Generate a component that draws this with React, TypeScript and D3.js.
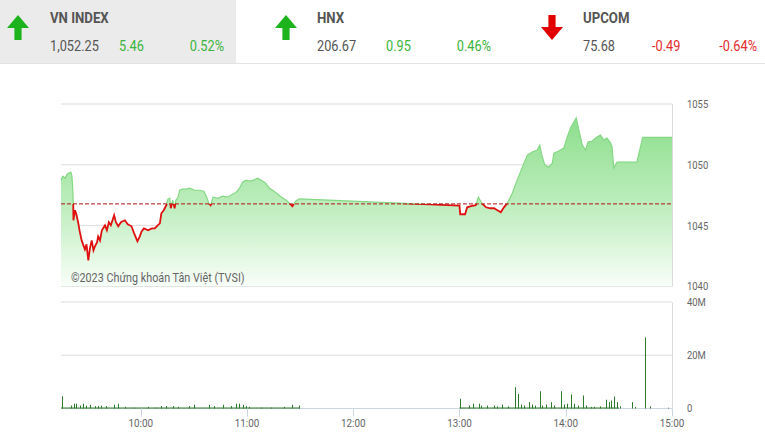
import * as d3 from 'd3';

// ---- header quotes ----
const indexNames = ['VN INDEX', 'HNX', 'UPCOM'];
const indexValues = ['1,052.25', '206.67', '75.68'];
const indexChanges = ['5.46', '0.95', '-0.49'];
const indexPercents = ['0.52%', '0.46%', '-0.64%'];

// ---- intraday VN-Index (time, points) ----
const priceTimes = [
  '09:15:00', '09:16:00', '09:17:20', '09:18:25', '09:19:30', '09:20:35', '09:21:10', '09:21:35',
  '09:21:55', '09:22:00', '09:22:55', '09:23:40', '09:24:40', '09:25:40', '09:26:40', '09:27:40',
  '09:28:30', '09:29:25', '09:30:25', '09:31:20', '09:32:20', '09:33:20', '09:34:10', '09:35:20',
  '09:36:00', '09:37:00', '09:38:05', '09:39:50', '09:40:55', '09:42:00', '09:43:10', '09:45:00',
  '09:46:00', '09:47:20', '09:48:50', '09:51:05', '09:52:40', '09:54:50', '09:56:05', '09:58:10',
  '09:59:30', '10:00:30', '10:01:50', '10:04:10', '10:06:20', '10:08:00', '10:09:35', '10:10:50',
  '10:11:40', '10:13:00', '10:14:30', '10:15:20', '10:16:25', '10:17:00', '10:18:05', '10:19:10',
  '10:19:50', '10:20:55', '10:22:00', '10:23:40', '10:25:50', '10:27:40', '10:30:30', '10:33:20',
  '10:35:35', '10:37:05', '10:38:25', '10:39:30', '10:40:50', '10:43:30', '10:46:20', '10:49:05',
  '10:51:55', '10:54:00', '10:55:50', '10:57:30', '10:59:35', '11:01:30', '11:03:40', '11:06:00',
  '11:08:10', '11:10:30', '11:12:40', '11:14:35', '11:16:40', '11:19:30', '11:22:10', '11:24:00',
  '11:25:40', '11:27:25', '11:29:35',
  '13:00:00', '13:00:25', '13:03:10', '13:04:20', '13:06:30', '13:09:10', '13:10:40', '13:12:40',
  '13:15:00', '13:17:20', '13:19:30', '13:21:25', '13:23:20', '13:25:05', '13:27:00', '13:29:50',
  '13:32:35', '13:35:30', '13:38:20', '13:41:05', '13:43:55', '13:45:20', '13:46:30', '13:48:10',
  '13:50:30', '13:52:25', '13:53:20', '13:56:05', '13:58:55', '14:00:50', '14:02:40', '14:04:35',
  '14:05:55', '14:07:25', '14:09:20', '14:11:10', '14:12:35', '14:14:55', '14:17:40', '14:19:35',
  '14:21:30', '14:23:20', '14:25:20', '14:26:10', '14:27:05', '14:29:00', '14:40:10', '14:43:30',
  '15:00:00',
];
const priceValues = [
  1048.74, 1049.07, 1048.9, 1049.23, 1049.32, 1049.4, 1049.07, 1048.16,
  1046.84, 1045.44, 1046.27, 1045.94, 1045.28, 1044.45, 1043.79, 1043.38,
  1043.05, 1043.46, 1042.14, 1043.13, 1043.79, 1042.97, 1043.3, 1043.63,
  1044.12, 1043.79, 1044.62, 1045.03, 1044.62, 1045.28, 1045.03, 1045.85,
  1045.28, 1044.95, 1045.28, 1045.44, 1045.11, 1044.95, 1044.45, 1043.71,
  1044.12, 1044.53, 1044.78, 1044.62, 1044.78, 1044.78, 1045.03, 1045.19,
  1046.02, 1046.27, 1046.68, 1047.17, 1047.25, 1046.43, 1047.09, 1046.43,
  1047.09, 1047.25, 1047.91, 1048.0, 1048.0, 1048.08, 1047.91, 1047.91,
  1047.83, 1047.42, 1046.84, 1046.68, 1047.34, 1047.25, 1047.42, 1047.34,
  1047.58, 1047.75, 1048.08, 1048.57, 1048.74, 1048.66, 1048.74, 1048.9,
  1048.74, 1048.49, 1048.08, 1047.91, 1047.67, 1047.34, 1047.09, 1046.84,
  1046.6, 1047.01, 1047.21,
  1046.64, 1045.94, 1045.94, 1046.51, 1046.6, 1046.68, 1047.34, 1046.84,
  1046.51, 1046.43, 1046.43, 1046.27, 1046.1, 1046.51, 1046.84, 1047.67,
  1048.74, 1049.81, 1050.8, 1051.05, 1051.21, 1051.62, 1050.8, 1049.98,
  1049.81, 1050.14, 1050.96, 1051.13, 1051.38, 1052.28, 1053.03, 1053.52,
  1053.85, 1052.86, 1051.62, 1051.21, 1051.87, 1051.96, 1052.28, 1052.45,
  1052.04, 1052.2, 1051.79, 1051.46, 1049.73, 1050.22, 1050.22, 1052.25,
  1052.25,
];
const referencePrice = 1046.79;

// ---- matched volume (time, million shares) ----
const volumeTimes = [
  '09:15:30', '09:20:50', '09:22:20', '09:23:35', '09:25:30', '09:27:25', '09:29:20', '09:31:10',
  '09:34:00', '09:35:50', '09:37:40', '09:40:30', '09:45:10', '09:47:05', '09:50:55', '09:56:30',
  '10:04:00', '10:07:50', '10:11:30', '10:14:20', '10:18:00', '10:21:00', '10:27:30', '10:30:20',
  '10:38:50', '10:41:35', '10:46:20', '10:51:00', '10:53:50', '10:55:40', '10:57:30', '10:59:25',
  '11:01:20', '11:07:50', '11:13:30', '11:21:00', '11:25:40', '11:29:30',
  '13:00:25', '13:05:25', '13:07:50', '13:11:00', '13:12:00', '13:15:40', '13:19:30', '13:21:25',
  '13:24:10', '13:27:35', '13:31:20', '13:33:00', '13:34:35', '13:36:25', '13:39:10', '13:41:05',
  '13:42:35', '13:45:20', '13:46:40', '13:48:35', '13:51:30', '13:53:20', '13:57:05', '13:58:55',
  '14:00:50', '14:03:05', '14:04:35', '14:06:50', '14:09:50', '14:11:10', '14:14:00', '14:15:50',
  '14:19:35', '14:23:00', '14:24:20', '14:25:35', '14:27:30', '14:29:00', '14:30:55', '14:37:25',
  '14:39:20', '14:45:00', '14:47:20', '14:57:40',
];
const volumeValues = [
  4.6, 1.1, 1.8, 1.8, 1.1, 1.8, 1.1, 1.4,
  0.9, 0.9, 1.1, 0.9, 1.4, 1.8, 0.6, 0.3,
  0.6, 0.3, 0.9, 0.9, 0.9, 0.6, 0.9, 1.4,
  1.4, 0.9, 1.4, 0.9, 1.8, 1.8, 1.4, 0.9,
  0.6, 0.3, 0.3, 0.6, 1.4, 1.1,
  3.6, 1.1, 1.8, 1.8, 1.1, 1.1, 1.1, 0.8,
  1.5, 0.8, 8.0, 5.5, 1.5, 1.1, 2.4, 1.5,
  1.1, 6.5, 1.1, 1.5, 2.4, 1.1, 6.5, 1.5,
  1.8, 5.3, 1.8, 1.1, 4.9, 1.1, 0.6, 0.6,
  0.8, 3.3, 2.4, 3.0, 4.5, 2.4, 0.8, 2.4,
  0.6, 26.7, 0.8, 0.3,
];
const sessionStarts = ['09:15:00', '13:00:00'];
const sessionEnds = ['11:30:00', '14:30:00'];

// ---- axes ----
const priceTicks = [1040, 1045, 1050, 1055];
const volumeTicks = [0, 20, 40];
const hourTicks = ['10:00', '11:00', '12:00', '13:00', '14:00', '15:00'];

const W = 765;
const H = 441;
const FONT = 'Roboto, "Noto Sans", sans-serif';
// the original uses a condensed face; squeeze Roboto horizontally instead
const NARROW = 0.86;

const parse = d3.timeParse('%H:%M:%S');
const t = (s: string) => parse(s.length === 5 ? s + ':00' : s)!;

function Arrow({ cx, up, color }: { cx: number; up: boolean; color: string }) {
  const top = 15;
  const bottom = 40;
  const hw = 11;
  const sw = 3.6;
  const headH = 13;
  const d = up
    ? `M${cx},${top} L${cx + hw},${top + headH} L${cx + sw},${top + headH} L${cx + sw},${bottom} L${cx - sw},${bottom} L${cx - sw},${top + headH} L${cx - hw},${top + headH} Z`
    : `M${cx},${bottom} L${cx + hw},${bottom - headH} L${cx + sw},${bottom - headH} L${cx + sw},${top} L${cx - sw},${top} L${cx - sw},${bottom - headH} L${cx - hw},${bottom - headH} Z`;
  return <path d={d} fill={color} />;
}

function Narrow({ x, y, k = NARROW, children, ...rest }: any) {
  return (
    <text transform={`translate(${x},${y}) scale(${k},1)`} {...rest}>
      {children}
    </text>
  );
}

export default function App() {
  const left = 61;
  const right = 672;
  const mainTop = 104;
  const mainBottom = 286.5;
  const volTop = 302;
  const volBottom = 408.5;

  const x = d3.scaleTime().domain([t('09:15:00'), t('15:00:00')]).range([left, right]);
  const y = d3.scaleLinear().domain([1040, 1055]).range([mainBottom, mainTop]);
  const yv = d3.scaleLinear().domain([0, 40]).range([volBottom, volTop]);

  const prices = priceTimes.map((s, i) => ({ date: t(s), value: priceValues[i] }));
  const line = d3
    .line<{ date: Date; value: number }>()
    .x((d) => x(d.date))
    .y((d) => y(d.value));
  const area = d3
    .area<{ date: Date; value: number }>()
    .x((d) => x(d.date))
    .y0(mainBottom)
    .y1((d) => y(d.value));

  const refY = y(referencePrice);
  const headerX = [50, 317, 583];
  const arrowX = [18, 286, 552];
  const green = '#3cb43c';
  const red = '#e32b2b';

  return (
    <svg
      width={W}
      height={H}
      style={{ position: 'absolute', left: 0, top: 0, background: '#fff' }}
      fontFamily={FONT}
    >
      <defs>
        <linearGradient id="fillGrad" gradientUnits="userSpaceOnUse" x1={0} y1={mainTop} x2={0} y2={mainBottom}>
          <stop offset="0%" stopColor="#85dc85" />
          <stop offset="55%" stopColor="#bdedbd" />
          <stop offset="100%" stopColor="#f9fef9" />
        </linearGradient>
        <clipPath id="aboveRef">
          <rect x={0} y={0} width={W} height={refY} />
        </clipPath>
        <clipPath id="belowRef">
          <rect x={0} y={refY} width={W} height={H - refY} />
        </clipPath>
      </defs>

      {/* header */}
      <rect x={0} y={0} width={236} height={63} fill="#ebebeb" />
      <line x1={0} x2={W} y1={63.5} y2={63.5} stroke="#e3e3e3" />
      {indexNames.map((name, i) => {
        const up = !indexChanges[i].startsWith('-');
        const c = up ? green : red;
        return (
          <g key={name}>
            <Arrow cx={arrowX[i]} up={up} color={up ? '#1db31d' : '#e00000'} />
            <Narrow x={headerX[i]} y={23} k={0.88} fontSize={15} fontWeight="bold" fill="#555">
              {name}
            </Narrow>
            <Narrow x={headerX[i]} y={51} k={0.88} fontSize={14.5} fill="#555">
              {indexValues[i]}
            </Narrow>
            <Narrow x={headerX[i] + 69} y={51} k={0.88} fontSize={14.5} fill={c}>
              {indexChanges[i]}
            </Narrow>
            <Narrow x={headerX[i] + 174} y={51} k={0.88} fontSize={14.5} fill={c} textAnchor="end">
              {indexPercents[i]}
            </Narrow>
          </g>
        );
      })}

      {/* price chart grid */}
      {priceTicks.map((v) => (
        <g key={v}>
          <line x1={left} x2={right} y1={y(v)} y2={y(v)} stroke={v === 1040 ? '#cfcfcf' : '#dcdcdc'} />
          <Narrow x={687} y={y(v)} dy="0.35em" fontSize={11} fill="#666">
            {v}
          </Narrow>
        </g>
      ))}
      <line x1={right + 0.5} x2={right + 0.5} y1={mainTop} y2={mainBottom} stroke="#dcdcdc" />

      <path d={area(prices)!} fill="url(#fillGrad)" />
      <path d={line(prices)!} fill="none" stroke="#84d884" strokeWidth={1.2} clipPath="url(#aboveRef)" />
      <path d={line(prices)!} fill="none" stroke="#e01010" strokeWidth={1.8} clipPath="url(#belowRef)" />
      <line x1={left} x2={right} y1={refY} y2={refY} stroke="#b01515" strokeDasharray="4,2" />

      <Narrow x={71} y={282} k={0.9} fontSize={12} fill="#666">
        ©2023 Chứng khoán Tân Việt (TVSI)
      </Narrow>

      {/* volume chart */}
      {volumeTicks.map((v) => (
        <g key={v}>
          <line x1={left} x2={right} y1={yv(v)} y2={yv(v)} stroke={v === 0 ? '#ccd6e0' : '#dcdcdc'} />
          <Narrow x={687} y={yv(v)} dy="0.35em" fontSize={11} fill="#666">
            {v === 0 ? '0' : `${v}M`}
          </Narrow>
        </g>
      ))}
      <line x1={right + 0.5} x2={right + 0.5} y1={volTop} y2={volBottom} stroke="#dcdcdc" />
      {sessionStarts.map((s, i) => (
        <line
          key={s}
          x1={x(t(s))}
          x2={x(t(sessionEnds[i]))}
          y1={volBottom - 0.5}
          y2={volBottom - 0.5}
          stroke="#2c7a2c"
        />
      ))}
      {volumeTimes.map((s, i) => (
        <line
          key={s}
          x1={Math.round(x(t(s))) + 0.5}
          x2={Math.round(x(t(s))) + 0.5}
          y1={volBottom}
          y2={yv(volumeValues[i])}
          stroke="#2c7a2c"
          strokeWidth={1}
        />
      ))}

      {/* time axis */}
      {hourTicks.map((h) => (
        <g key={h}>
          <line
            x1={Math.round(x(t(h))) + 0.5}
            x2={Math.round(x(t(h))) + 0.5}
            y1={volBottom}
            y2={volBottom + 8}
            stroke="#ccd6e0"
          />
          <Narrow x={x(t(h))} y={427} fontSize={11.5} textAnchor="middle" fill="#666">
            {h}
          </Narrow>
        </g>
      ))}
    </svg>
  );
}
